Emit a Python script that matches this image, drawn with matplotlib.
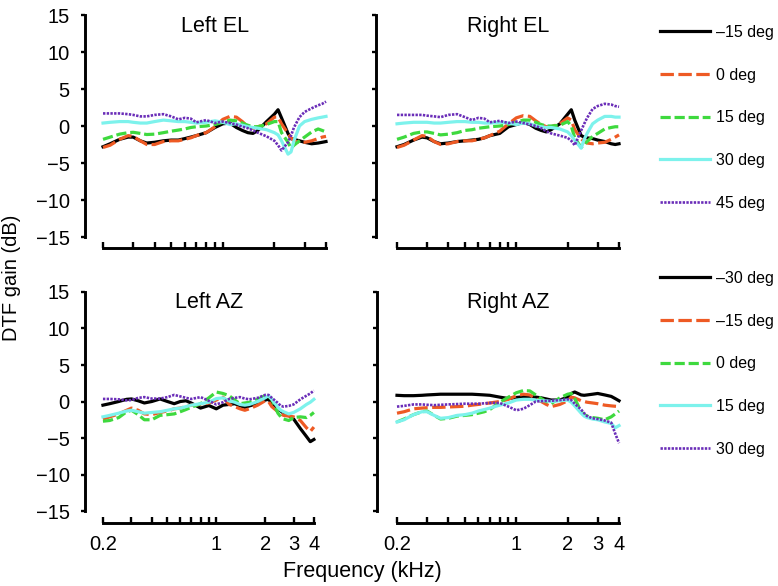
import matplotlib
matplotlib.use('Agg')
import matplotlib.pyplot as plt

plt.rcParams['font.family'] = ['Liberation Sans', 'DejaVu Sans']

# frequency grid (kHz) used for every curve
freqs = [0.2, 0.22, 0.25, 0.28, 0.3, 0.33, 0.36, 0.4, 0.45, 0.5, 0.55, 0.6, 0.65, 0.7, 0.8, 0.9,
         1.0, 1.1, 1.2, 1.3, 1.4, 1.5, 1.6, 1.8, 2.0, 2.1, 2.2, 2.4, 2.5, 2.6, 2.8, 3.0, 3.3, 3.6, 3.8, 4.0]

# Left EL
left_el_m15 = [-2.8, -2.4, -1.8, -1.5, -1.5, -2.0, -2.3, -2.2, -2.0, -1.9, -1.9, -1.7, -1.5, -1.3, -0.9, -0.2,
               0.3, 0.4, -0.2, -0.6, -0.9, -1.0, -0.6, 0.6, 1.6, 2.2, 1.1, -1.0, -1.7, -1.8, -2.0, -2.2, -2.4, -2.3, -2.2, -2.1]
left_el_0 = [-2.9, -2.6, -1.8, -1.3, -1.4, -2.0, -2.5, -2.5, -2.1, -2.0, -2.0, -1.8, -1.6, -1.3, -0.9, -0.1,
             0.9, 1.3, 1.2, 0.6, -0.1, -0.3, -0.1, 0.3, 1.2, 1.2, 0.3, -1.0, -1.6, -2.0, -2.2, -2.2, -2.0, -1.7, -1.5, -1.4]
left_el_15 = [-1.8, -1.5, -1.1, -0.9, -0.85, -1.0, -1.15, -1.1, -0.9, -0.7, -0.55, -0.4, -0.2, -0.1, 0.0, 0.2,
              0.5, 0.8, 0.7, 0.4, 0.1, -0.1, -0.1, 0.2, 0.6, 0.6, -0.9, -2.2, -3.0, -2.6, -2.0, -1.5, -0.8, -0.4, -0.6, -0.8]
left_el_30 = [0.4, 0.5, 0.6, 0.6, 0.5, 0.4, 0.4, 0.6, 0.8, 0.7, 0.6, 0.6, 0.5, 0.4, 0.5, 0.7,
              0.5, 0.2, 0.3, 0.1, -0.1, -0.2, -0.3, -0.5, -0.9, -1.2, -2.0, -3.8, -3.5, -2.0, 0.0, 0.6, 0.9, 1.1, 1.2, 1.3]
left_el_45 = [1.7, 1.7, 1.7, 1.6, 1.5, 1.3, 1.3, 1.5, 1.6, 1.3, 0.9, 1.1, 1.0, 0.5, 0.8, 0.4,
              0.6, 0.4, 0.2, -0.1, -0.3, -0.6, -0.9, -1.4, -2.0, -2.6, -3.3, -2.2, -1.3, -0.2, 1.2, 1.9, 2.4, 2.8, 3.0, 3.3]

# Right EL
right_el_m15 = [-2.8, -2.5, -1.9, -1.5, -1.6, -2.1, -2.4, -2.3, -2.1, -2.0, -1.9, -1.8, -1.6, -1.3, -1.0, -0.1,
                0.2, 0.5, 0.2, -0.3, -0.6, -0.8, -0.5, 0.3, 1.6, 2.2, 0.8, -1.3, -1.5, -1.6, -1.7, -1.9, -2.1, -2.4, -2.5, -2.4]
right_el_0 = [-2.9, -2.6, -1.9, -1.3, -1.4, -2.1, -2.5, -2.4, -2.1, -2.0, -2.0, -1.8, -1.6, -1.3, -0.7, 0.3,
              1.1, 1.4, 1.3, 0.7, 0.2, -0.1, -0.1, 0.3, 1.1, 0.8, -0.5, -1.7, -2.1, -2.3, -2.4, -2.3, -2.2, -1.8, -1.5, -1.2]
right_el_15 = [-1.8, -1.5, -1.0, -0.8, -0.8, -1.0, -1.2, -1.1, -0.9, -0.6, -0.5, -0.3, -0.2, -0.1, 0.0, 0.2,
               0.5, 0.8, 0.8, 0.5, 0.2, 0.0, 0.0, 0.1, 0.6, 0.0, -1.6, -2.9, -2.5, -2.1, -1.4, -1.0, -0.4, -0.2, -0.1, -0.1]
right_el_30 = [0.3, 0.4, 0.5, 0.5, 0.5, 0.4, 0.4, 0.5, 0.6, 0.6, 0.5, 0.5, 0.4, 0.4, 0.5, 0.4,
               0.2, 0.4, 0.3, 0.0, -0.1, -0.2, -0.2, -0.4, -0.8, -1.3, -1.9, -3.0, -1.8, -1.0, 0.3, 0.8, 1.3, 1.3, 1.2, 1.2]
right_el_45 = [1.5, 1.5, 1.5, 1.5, 1.4, 1.3, 1.2, 1.5, 1.6, 1.2, 0.8, 1.1, 1.0, 0.5, 0.7, 0.4,
               0.6, 0.4, 0.2, 0.0, -0.3, -0.7, -1.0, -1.3, -1.6, -2.0, -2.6, -0.6, 0.3, 1.1, 2.3, 2.7, 3.0, 2.9, 2.7, 2.6]

# Left AZ
left_az_m30 = [-0.5, -0.3, 0.0, 0.3, 0.35, 0.1, -0.2, 0.0, 0.35, 0.0, -0.3, 0.0, 0.1, -0.2, -0.9, -0.55,
               -1.0, -0.5, -0.4, -0.3, -0.6, -0.8, -0.6, -0.3, 0.2, 0.3, -0.2, -1.0, -1.3, -1.6, -1.9, -2.4, -3.7, -4.8, -5.5, -5.2]
left_az_m15 = [-2.4, -2.1, -1.7, -1.2, -0.9, -1.2, -1.7, -1.8, -1.5, -1.3, -1.0, -0.9, -0.7, -0.5, -0.4, -0.2,
               0.2, 0.6, -0.4, -0.7, -1.0, -1.2, -1.0, -0.5, 0.1, 0.0, -0.7, -1.4, -1.7, -1.9, -2.0, -2.1, -2.6, -3.6, -4.1, -3.5]
left_az_0 = [-2.7, -2.6, -2.2, -1.4, -1.2, -1.8, -2.5, -2.5, -1.9, -1.8, -1.7, -1.4, -1.1, -0.8, -0.3, 0.5,
             1.3, 1.1, 0.8, 0.2, -0.3, -0.2, -0.1, 0.3, 0.8, 0.7, 0.3, -1.6, -2.1, -2.4, -2.6, -2.2, -2.1, -2.2, -1.9, -1.5]
left_az_15 = [-2.1, -1.9, -1.6, -1.3, -1.2, -1.4, -1.6, -1.5, -1.4, -1.2, -1.0, -0.9, -0.7, -0.5, -0.3, -0.1,
              0.4, 0.5, 0.1, -0.1, -0.4, -0.5, -0.4, 0.0, 0.5, 0.8, 0.3, -0.8, -1.2, -1.4, -1.7, -1.5, -1.0, -0.4, -0.1, 0.3]
left_az_30 = [0.35, 0.35, 0.3, 0.15, 0.2, 0.5, 0.6, 0.4, 0.4, 0.6, 0.9, 0.7, 0.5, 0.35, 0.6, 0.1,
              -0.4, -0.1, 0.35, 0.5, 0.6, 0.4, 0.3, 0.5, 0.9, 0.9, 0.5, -0.2, -0.6, -0.7, -0.6, -0.4, 0.3, 0.8, 1.1, 1.5]

# Right AZ
right_az_m30 = [0.85, 0.8, 0.8, 0.85, 0.9, 0.95, 1.0, 1.0, 1.0, 1.0, 1.0, 0.95, 0.9, 0.85, 0.6, 0.4,
                0.55, 0.65, 0.7, 0.6, 0.5, 0.35, 0.2, 0.2, 0.6, 1.1, 1.3, 0.9, 0.85, 0.9, 1.0, 1.1, 0.9, 0.7, 0.4, 0.1]
right_az_m15 = [-1.6, -1.4, -1.0, -0.9, -0.85, -0.8, -0.8, -0.75, -0.7, -0.65, -0.5, -0.4, -0.3, -0.2, 0.0, 0.3,
                0.8, 1.0, 0.9, 0.4, 0.0, -0.4, -0.7, -0.4, 0.1, 0.6, 0.5, 0.1, 0.0, -0.1, -0.2, -0.3, -0.5, -0.6, -0.65, -0.7]
right_az_0 = [-2.8, -2.4, -1.8, -1.4, -1.3, -1.9, -2.4, -2.3, -2.0, -1.9, -1.8, -1.6, -1.4, -1.1, -0.1, 0.6,
              1.2, 1.5, 1.45, 0.9, 0.4, 0.0, -0.3, 0.5, 1.0, 1.1, 0.4, -1.4, -1.8, -2.0, -2.2, -2.3, -2.5, -2.1, -1.7, -1.3]
right_az_15 = [-2.8, -2.5, -1.8, -1.4, -1.4, -1.9, -2.3, -2.2, -1.9, -1.8, -1.6, -1.3, -1.1, -0.9, -0.5, -0.2,
               0.2, 0.3, 0.3, 0.2, 0.1, 0.1, 0.0, 0.1, 0.2, -0.1, -0.6, -1.6, -2.0, -2.2, -2.4, -2.5, -2.8, -3.0, -3.6, -3.3]
right_az_30 = [-0.7, -0.6, -0.4, -0.4, -0.45, -0.5, -0.45, -0.4, -0.35, -0.3, -0.3, -0.3, -0.25, -0.2, -0.2, -0.7,
               -1.2, -1.0, -0.5, 0.0, 0.05, 0.1, 0.1, 0.2, 0.3, 0.2, -0.3, -1.1, -1.6, -2.0, -2.3, -2.4, -2.6, -2.9, -4.4, -5.7]

el_labels = ['\u201315 deg', '0 deg', '15 deg', '30 deg', '45 deg']
az_labels = ['\u201330 deg', '\u201315 deg', '0 deg', '15 deg', '30 deg']

xtick_vals = [0.2, 0.3, 0.4, 0.5, 0.6, 0.7, 0.8, 0.9, 1, 2, 3, 4]
xtick_text = ['0.2', '', '', '', '', '', '', '', '1', '2', '3', '4']
ytick_vals = [-15, -10, -5, 0, 5, 10, 15]

# line styles, one per series position
styles = [
    dict(color='#000000', lw=2.3, ls='-'),
    dict(color='#EE5A24', lw=2.3, ls=(0, (4.2, 1.4))),
    dict(color='#3ED93E', lw=2.3, ls=(0, (3.2, 1.2))),
    dict(color='#7DF2EC', lw=2.3, ls='-'),
    dict(color='#6A2DB8', lw=1.9, ls=(0, (0.9, 0.5))),
]

W, H = 778, 586
fig = plt.figure(figsize=(W / 100, H / 100), dpi=100)


def px_axes(x0, x1, ytop, ybot):
    return fig.add_axes([x0 / W, 1 - ybot / H, (x1 - x0) / W, (ybot - ytop) / H])


panels = [
    # title, series, labels, axes px box, xlim, ylim, show x labels, show y labels
    ('Left EL', [left_el_m15, left_el_0, left_el_15, left_el_30, left_el_45], el_labels,
     (85, 330, 12.8, 248.1), (0.157, 4.22), (-16.5, 15.3), False, True),
    ('Right EL', [right_el_m15, right_el_0, right_el_15, right_el_30, right_el_45], el_labels,
     (376, 623, 12.8, 248.1), (0.1506, 4.22), (-16.5, 15.3), False, False),
    ('Left AZ', [left_az_m30, left_az_m15, left_az_0, left_az_15, left_az_30], az_labels,
     (85, 318, 289.8, 523), (0.155, 4.24), (-16.64, 15.3), True, True),
    ('Right AZ', [right_az_m30, right_az_m15, right_az_0, right_az_15, right_az_30], az_labels,
     (377, 623, 289.8, 523), (0.1527, 4.22), (-16.64, 15.3), True, False),
]

axes = []
for title, series, labels, box, xlim, ylim, showx, showy in panels:
    ax = px_axes(*box)
    for vals, st, lab in zip(series, styles, labels):
        ax.plot(freqs, vals, color=st['color'], lw=st['lw'], linestyle=st['ls'], label=lab)
    ax.set_xscale('log')
    ax.set_xlim(*xlim)
    ax.set_ylim(*ylim)
    ax.minorticks_off()
    ax.set_xticks(xtick_vals)
    ax.set_xticklabels(xtick_text if showx else [''] * len(xtick_vals))
    ax.set_yticks(ytick_vals)
    if showy:
        ax.set_yticklabels([str(v).replace('-', '\u2212') for v in ytick_vals])
    else:
        ax.set_yticklabels([''] * len(ytick_vals))
    ax.spines['top'].set_visible(False)
    ax.spines['right'].set_visible(False)
    ax.spines['left'].set_bounds(-15, 15)
    ax.spines['bottom'].set_bounds(0.2, 4)
    ax.spines['left'].set_linewidth(2.1)
    ax.spines['bottom'].set_linewidth(2.1)
    ax.tick_params(axis='y', direction='out', length=3, width=1.7, labelsize=14.5, pad=8)
    ax.tick_params(axis='x', direction='in', length=4, width=1.7, labelsize=14.5, pad=9)
    ax.text(0.9, 13.5, title, ha='center', va='center', fontsize=15.5)
    axes.append(ax)

# legends on the right
for ax, ytop in [(axes[1], 25), (axes[3], 271)]:
    ax.legend(loc='upper left', bbox_to_anchor=(660 / W, 1 - ytop / H), bbox_transform=fig.transFigure,
              frameon=False, fontsize=11.5, handlelength=3.1, handletextpad=0.4,
              labelspacing=1.73, borderpad=0, borderaxespad=0)

fig.text(362 / W, 1 - 572 / H, 'Frequency (kHz)', ha='center', va='center', fontsize=15.5)
fig.text(12 / W, 1 - 278 / H, 'DTF gain (dB)', ha='center', va='center', rotation=90, fontsize=14.5)

fig.savefig('out.png', dpi=100)
